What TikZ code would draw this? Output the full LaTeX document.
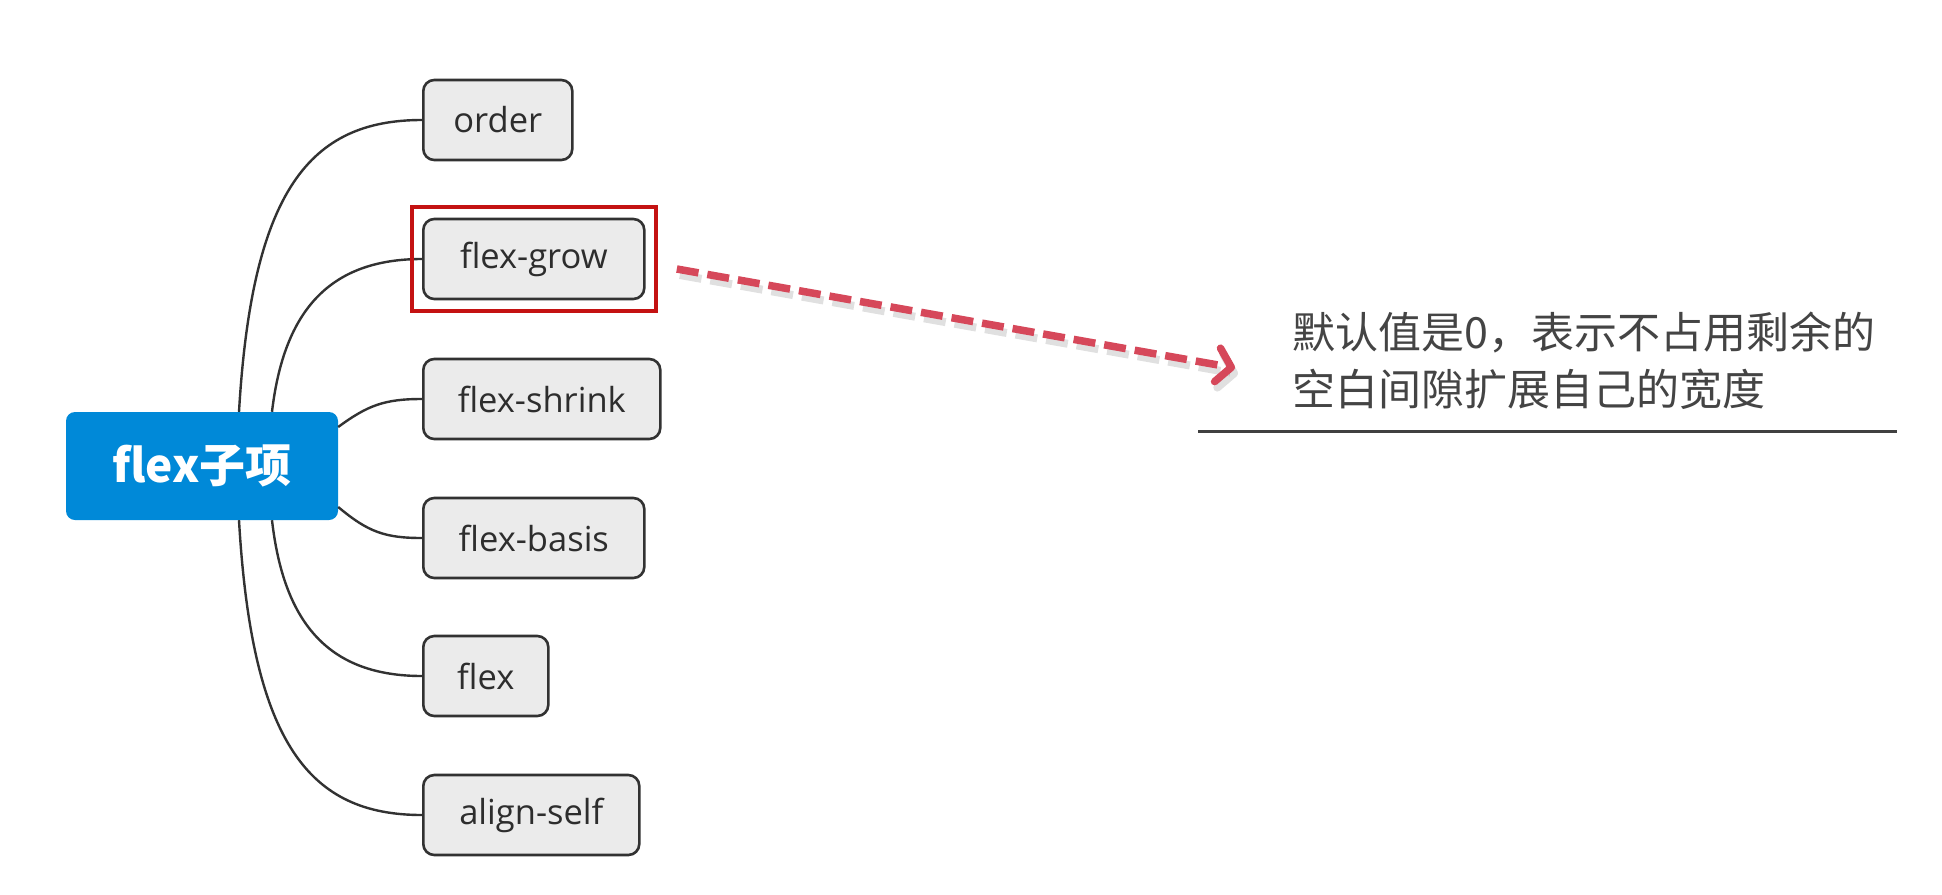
\documentclass[tikz,border=0pt]{standalone}
\usepackage{fontspec}
\setmainfont{Open Sans}
\newfontfamily\cjk{Noto Sans CJK SC}
\usetikzlibrary{arrows.meta,calc}
\definecolor{rootblue}{RGB}{0,137,216}
\definecolor{boxgray}{RGB}{235,235,235}
\definecolor{edgegray}{RGB}{50,50,50}
\definecolor{hlred}{RGB}{196,18,18}
\definecolor{arrowred}{RGB}{214,72,90}
\definecolor{txtgray}{RGB}{68,68,68}
\definecolor{labelgray}{RGB}{45,45,45}
\tikzset{
  leaf/.style={draw=edgegray, line width=2.6pt, fill=boxgray, rounded corners=11pt,
    minimum height=80pt, anchor=west, inner xsep=29pt, inner ysep=0pt, text=labelgray,
    font=\fontsize{34.5}{40}\selectfont},
  rootbox/.style={fill=rootblue, rounded corners=9pt, minimum width=272pt,
    minimum height=108pt, inner sep=0pt, text=white,
    font=\cjk\bfseries\fontsize{46}{52}\selectfont},
  branch/.style={draw=edgegray, line width=2.4pt},
  hilite/.style={draw=hlred, line width=4pt},
  noteline/.style={draw=black!75, line width=3pt},
  notetext/.style={anchor=north west, align=left, inner sep=0pt, text=txtgray,
    font=\cjk\fontsize{43}{57}\selectfont}
}
\begin{document}
\begin{tikzpicture}[x=1pt,y=-1pt]
\useasboundingbox (0,0) rectangle (1942,894);
\fill[white] (0,0) rectangle (1942,894);

\node[rootbox] (root) at (202,466) {flex子项};

\node[leaf, minimum width=149pt] (order)  at (422,120) {order};
\node[leaf, minimum width=221pt] (grow)   at (422,259) {flex-grow};
\node[leaf, minimum width=237pt] (shrink) at (422,399) {flex-shrink};
\node[leaf, minimum width=221pt] (basis)  at (422,538) {flex-basis};
\node[leaf, minimum width=125pt] (flex)   at (422,676) {flex};
\node[leaf, minimum width=216pt] (align)  at (422,815) {align-self};

\coordinate (s1) at ([xshift=37pt]root.north);
\coordinate (s2) at ([xshift=70pt]root.north);
\coordinate (s3) at ([yshift=39pt]root.east);
\coordinate (s4) at ([yshift=-41pt]root.east);
\coordinate (s5) at ([xshift=70pt]root.south);
\coordinate (s6) at ([xshift=37pt]root.south);

\draw[branch] (s1) .. controls (252,190) and (310,120) .. (order.west);
\draw[branch] (s2) .. controls (284,310) and (330,259) .. (grow.west);
\draw[branch] (s3) .. controls (368,405) and (385,399) .. (shrink.west);
\draw[branch] (s4) .. controls (368,532) and (385,538) .. (basis.west);
\draw[branch] (s5) .. controls (284,625) and (330,676) .. (flex.west);
\draw[branch] (s6) .. controls (252,745) and (310,815) .. (align.west);

\node[hilite, minimum width=244pt, minimum height=104pt, inner sep=0pt] (hl) at (grow.center) {};

\node[notetext] (note) at (1292,312) {默认值是0，表示不占用剩余的\\空白间隙扩展自己的宽度};
\coordinate (lineL) at (1198,431);
\coordinate (lineR) at (1897,431);
\draw[noteline] (lineL) -- (lineR);

\coordinate (arrS) at ([xshift=19pt,yshift=-10pt]hl.east);
\coordinate (arrE) at (1235,368);
\draw[black, opacity=0.12, line width=8pt, dash pattern=on 22pt off 9pt,
  -{Straight Barb[length=14pt,width=34pt,round]}]
  ([xshift=3pt,yshift=-6pt]arrS) -- ([xshift=3pt,yshift=-6pt]arrE);
\draw[arrowred, line width=7.5pt, dash pattern=on 22pt off 9pt,
  -{Straight Barb[length=14pt,width=34pt,round]}] (arrS) -- (arrE);
\end{tikzpicture}
\end{document}
